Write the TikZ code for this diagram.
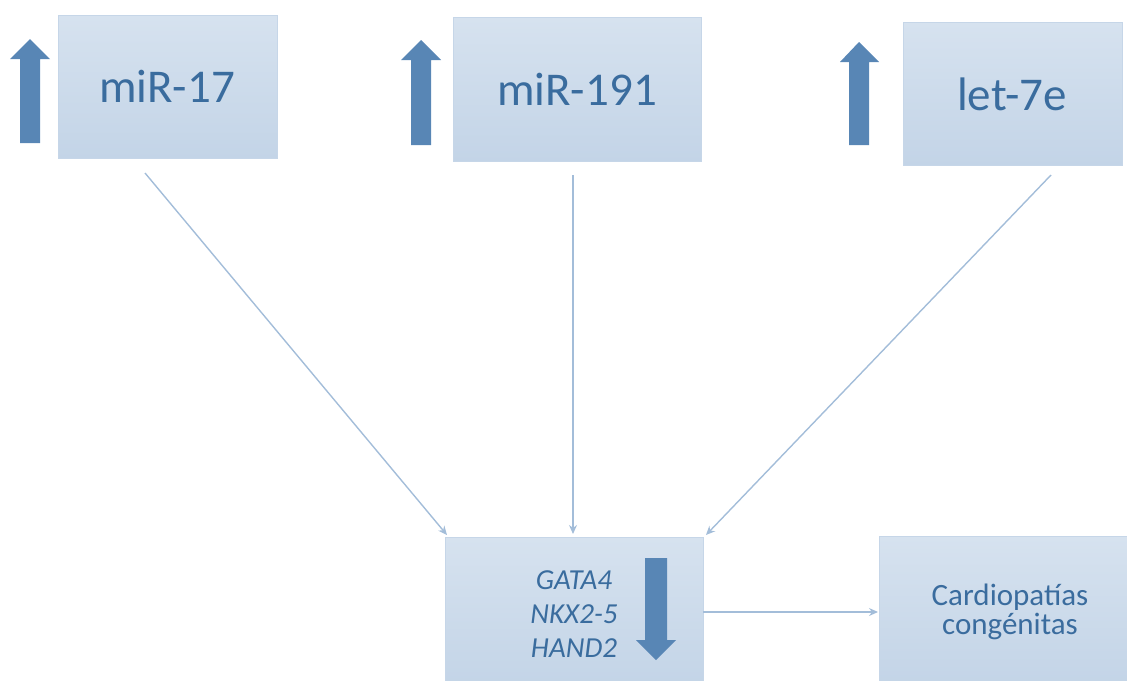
\documentclass[tikz,border=0pt]{standalone}
\usepackage{fontspec}
\setmainfont{Carlito}
\usetikzlibrary{arrows.meta}
\definecolor{txtblue}{HTML}{3A6C9E}
\definecolor{arrblue}{HTML}{5886B5}
\definecolor{lineblue}{HTML}{A3BDD9}
\definecolor{boxtop}{HTML}{D6E2EF}
\definecolor{boxbot}{HTML}{C3D4E7}
\definecolor{boxedge}{HTML}{C6D6E8}
\tikzset{
  box/.style={draw=boxedge, line width=0.8pt, top color=boxtop, bottom color=boxbot, inner sep=0pt, anchor=north west},
  bigtxt/.style={text=txtblue, font=\fontsize{47}{50}\selectfont},
  gtxt/.style={text=txtblue, font=\fontsize{29}{34}\selectfont\itshape, align=center},
  ctxt/.style={text=txtblue, font=\fontsize{31}{29}\selectfont, align=center},
  conn/.style={draw=lineblue, line width=1.4pt, -{Stealth[length=9pt,width=8pt]}},
  fatarrow/.style={fill=arrblue, draw=none}
}
\begin{document}
\begin{tikzpicture}[x=1pt,y=-1pt]
\useasboundingbox (0,0) rectangle (1127,680);
% boxes
\node[box, minimum width=219pt, minimum height=143pt] (b1) at (58,15) {};
\node[box, minimum width=248pt, minimum height=144pt] (b2) at (453,17) {};
\node[box, minimum width=219pt, minimum height=143pt] (b3) at (903,22) {};
\node[box, minimum width=258pt, minimum height=150pt] (g) at (445,537) {};
\node[box, minimum width=252pt, minimum height=150pt] (c) at (879,536) {};
% labels
\node[bigtxt] (t1) at (167,86) {miR-17};
\node[bigtxt] (t2) at (577,89) {miR-191};
\node[bigtxt] (t3) at (1012,94) {let-7e};
\node[gtxt] (tg) at (574,614) {GATA4\\NKX2-5\\HAND2};
\node[ctxt] (tc) at (1010,612) {Cardiopatías\\congénitas};
% fat arrows
\fill[fatarrow] (20,143) -- (20,59) -- (10,59) -- (30,39) -- (50,59) -- (40,59) -- (40,143) -- cycle;
\fill[fatarrow] (411,145) -- (411,60) -- (401,60) -- (421,40) -- (441,60) -- (431,60) -- (431,145) -- cycle;
\fill[fatarrow] (849,145) -- (849,62) -- (840,62) -- (859,42) -- (879,62) -- (869,62) -- (869,145) -- cycle;
\fill[fatarrow] (645,558) -- (667,558) -- (667,640) -- (676,640) -- (656,660) -- (636,640) -- (645,640) -- cycle;
% connectors
\coordinate (s1) at (145,173);
\coordinate (e1) at (447,535);
\coordinate (s2) at (573,175);
\coordinate (e2) at (573,534);
\coordinate (s3) at (1051,175);
\coordinate (e3) at (706,535);
\coordinate (s4) at (703,612);
\coordinate (e4) at (878,612);
\draw[conn] (s1) -- (e1);
\draw[conn] (s2) -- (e2);
\draw[conn] (s3) -- (e3);
\draw[conn] (s4) -- (e4);
\end{tikzpicture}
\end{document}
